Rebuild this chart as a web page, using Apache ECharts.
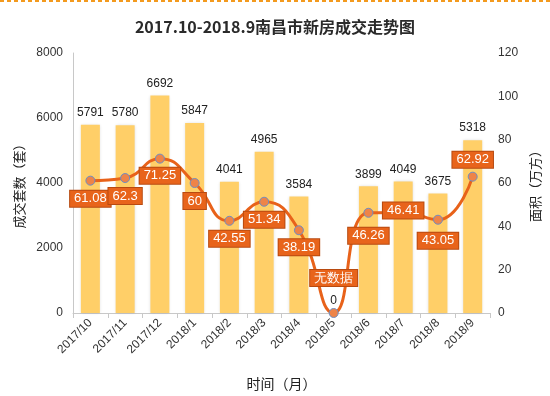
<!DOCTYPE html>
<html><head><meta charset="utf-8">
<script src="https://cdn.jsdelivr.net/npm/echarts@6/dist/echarts.min.js"></script>
<style>html,body{margin:0;padding:0;background:#fff}#c{width:550px;height:396px}</style>
</head><body><div id="c"></div>
<script>
var categories = ['2017/10','2017/11','2017/12','2018/1','2018/2','2018/3','2018/4','2018/5','2018/6','2018/7','2018/8','2018/9'];
var units = [5791, 5780, 6692, 5847, 4041, 4965, 3584, 0, 3899, 4049, 3675, 5318];
var area = [61.08, 62.3, 71.25, 60, 42.55, 51.34, 38.19, 0, 46.26, 46.41, 43.05, 62.92];
var areaLabels = ['61.08','62.3','71.25','60','42.55','51.34','38.19','无数据','46.26','46.41','43.05','62.92'];
var labelOffsetY = [18, 18, 17, 18, 18, 18, 17, -35, 23, -2, 21, -17];
var leftTicks = [0, 2000, 4000, 6000, 8000];
var rightTicks = [0, 20, 40, 60, 80, 100, 120];

var chart = echarts.init(document.getElementById('c'));
var lineData = area.map(function(v, i){
  return {value: v, label: {formatter: areaLabels[i], offset: [0, labelOffsetY[i]]}};
});
chart.setOption({
  animation: false,
  title: {text: '2017.10-2018.9南昌市新房成交走势图', left: 'center', top: 14,
    textStyle: {fontSize: 16, fontWeight: 'bold', color: '#2a2a2a', fontFamily: 'Noto Sans CJK SC'}},
  graphic: [{type: 'line', shape: {x1: 0, y1: 1, x2: 550, y2: 1},
    style: {stroke: '#F39A1E', lineWidth: 2, lineDash: [4, 3]}}],
  grid: {left: 73, right: 40, top: 53, bottom: 78},
  xAxis: {type: 'category', data: categories,
    name: '时间（月）', nameLocation: 'middle', nameGap: 64,
    nameTextStyle: {fontSize: 14, color: '#222', fontFamily: 'Noto Sans CJK SC'},
    axisLine: {lineStyle: {color: '#c8c8c8'}},
    axisTick: {show: true, length: 5, lineStyle: {color: '#c8c8c8'}},
    axisLabel: {rotate: 45, fontSize: 12, color: '#333', margin: 8, interval: 0}},
  yAxis: [{type: 'value', min: leftTicks[0], max: leftTicks[leftTicks.length-1], interval: 2000,
    name: '成交套数（套）', nameLocation: 'middle', nameGap: 46, nameRotate: 90,
    nameTextStyle: {fontSize: 13, color: '#222', fontFamily: 'Noto Sans CJK SC'},
    axisLine: {show: true, lineStyle: {color: '#c8c8c8'}},
    axisTick: {show: false},
    splitLine: {show: false},
    axisLabel: {fontSize: 12, color: '#333', margin: 10, formatter: function(v){ return String(v); }}},
   {type: 'value', min: rightTicks[0], max: rightTicks[rightTicks.length-1], interval: 20,
    name: '面积（万方）', nameLocation: 'middle', nameGap: 30, nameRotate: 90,
    nameTextStyle: {fontSize: 13, color: '#222', fontFamily: 'Noto Sans CJK SC'},
    axisLine: {show: false}, axisTick: {show: false}, splitLine: {show: false},
    axisLabel: {fontSize: 12, color: '#333', margin: 8, formatter: function(v){ return String(v); }}}],
  series: [{type: 'bar', data: units, barWidth: 19, yAxisIndex: 0,
    itemStyle: {color: '#FFCF68', shadowColor: 'rgba(0,0,0,0.18)', shadowBlur: 3},
    label: {show: true, position: 'top', distance: 6, fontSize: 12, color: '#222'}},
   {type: 'line', data: lineData, yAxisIndex: 1, smooth: 0.5, z: 5,
    lineStyle: {color: '#E8621A', width: 3},
    symbol: 'circle', symbolSize: 9,
    itemStyle: {color: '#EE8448', borderColor: '#6D8DC4', borderWidth: 1},
    label: {show: true, position: 'inside', color: '#fff', fontSize: 13,
      backgroundColor: '#E8641B', borderColor: '#B84A10', borderWidth: 1,
      padding: [2, 4, 1, 4]}}]
});
</script></body></html>
